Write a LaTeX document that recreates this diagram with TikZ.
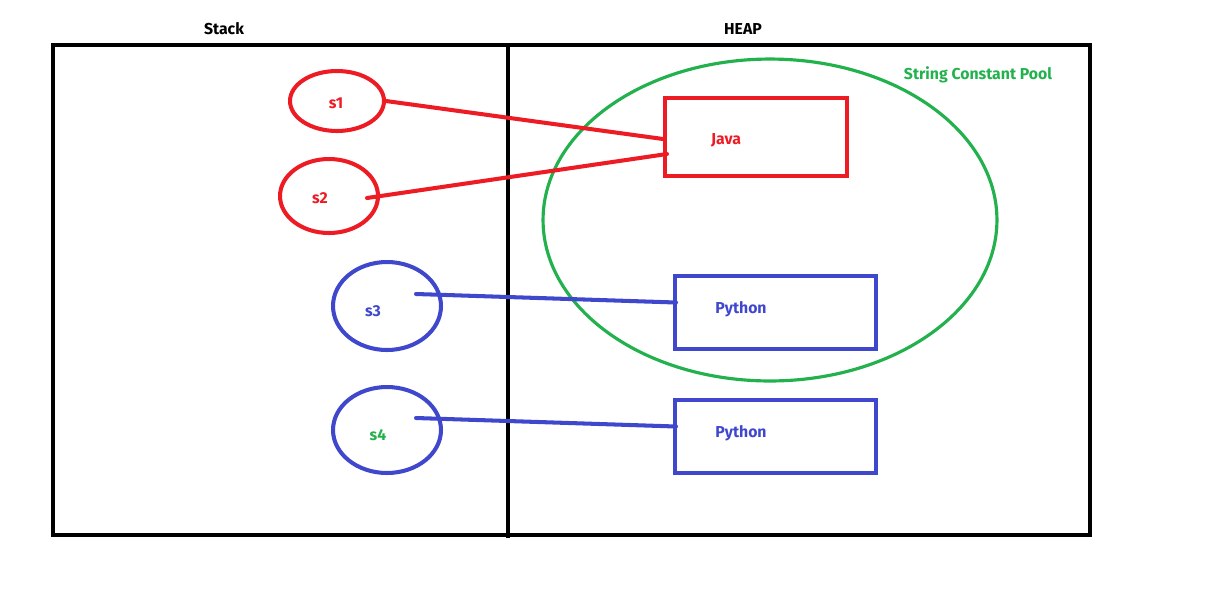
\documentclass[tikz,border=0pt]{standalone}
\usepackage{fontspec}
\setmainfont{Fira Sans}
\usepackage{tikz}
\usetikzlibrary{shapes.geometric, positioning}
\definecolor{pred}{RGB}{237,28,36}
\definecolor{pblue}{RGB}{63,72,204}
\definecolor{pgreen}{RGB}{34,177,76}
\tikzstyle{lbl} = [inner sep=0pt, font=\fontsize{9}{10}\selectfont\bfseries]
\tikzstyle{refr} = [ellipse, draw=pred, line width=2.3pt, inner sep=0pt]
\tikzstyle{refb} = [ellipse, draw=pblue, line width=2.3pt, inner sep=0pt]
\tikzstyle{objr} = [rectangle, draw=pred, line width=2.3pt, minimum width=3.64cm, minimum height=1.56cm]
\tikzstyle{objb} = [rectangle, draw=pblue, line width=2.3pt, minimum width=4.02cm, minimum height=1.46cm]
\tikzstyle{link} = [line width=2.3pt, line cap=round]

\begin{document}
\begin{tikzpicture}[x=0.02cm, y=-0.02cm]
\useasboundingbox (0,0) rectangle (1221,603);

% memory areas
\draw [line width=2.3pt] (53,45) rectangle (1090,535);
\draw [line width=2.3pt] (508,45) -- (508,538);
\node (stack) [lbl] at (224,29) {Stack};
\node (heap) [lbl] at (743,29) {HEAP};

% string pool
\node (pool) [ellipse, draw=pgreen, line width=1.8pt, minimum width=9.08cm, minimum height=6.44cm] at (770,220) {};
\node (poollbl) [lbl, text=pgreen] at (978,75) {String Constant Pool};

% objects
\node (java) [objr] at (756,137) {};
\node [lbl, text=pred] at (726,140) {Java};
\node (py1) [objb] at (775.5,312.5) {};
\node [lbl, text=pblue] at (741,309) {Python};
\node (py2) [objb] at (775.5,436.5) {};
\node [lbl, text=pblue] at (741,433) {Python};

% references
\node (s1) [refr, minimum width=1.88cm, minimum height=1.20cm] at (337,101) {};
\node [lbl, text=pred] at (336,103) {s1};
\node (s2) [refr, minimum width=1.96cm, minimum height=1.48cm] at (329,196) {};
\node [lbl, text=pred] at (320,198) {s2};
\node (s3) [refb, minimum width=2.16cm, minimum height=1.76cm] at (387,306) {};
\node [lbl, text=pblue] at (373,311) {s3};
\node (s4) [refb, minimum width=2.16cm, minimum height=1.72cm] at (387,430) {};
\node [lbl, text=pgreen] at (378,435) {s4};

\draw [link, pred] (s1.east) -- ([yshift=-0.04cm]java.west);
\draw [link, pred] ([xshift=0.76cm,yshift=-0.04cm]s2.center) -- ([xshift=0.08cm,yshift=-0.34cm]java.west);
\draw [link, pblue] ([xshift=0.58cm,yshift=0.24cm]s3.center) -- ([xshift=0.06cm,yshift=0.2cm]py1.west);
\draw [link, pblue] ([xshift=0.58cm,yshift=0.24cm]s4.center) -- ([xshift=0.06cm,yshift=0.2cm]py2.west);
\end{tikzpicture}
\end{document}
